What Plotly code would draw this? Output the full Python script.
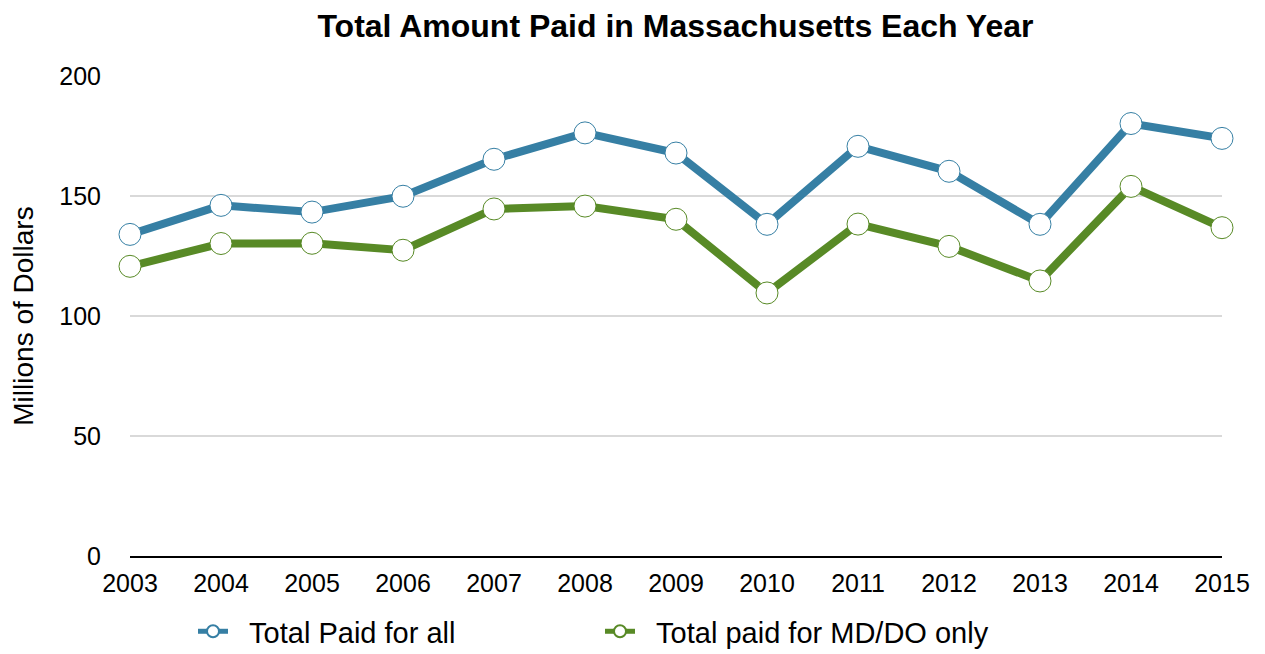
import plotly.graph_objects as go

years = [2003, 2004, 2005, 2006, 2007, 2008, 2009, 2010, 2011, 2012, 2013, 2014, 2015]
total_all = [134.0, 146.1, 143.3, 149.9, 165.3, 176.3, 167.9, 138.2, 170.7, 160.3, 138.2, 180.2, 174.0]
total_mddo = [120.7, 130.2, 130.3, 127.4, 144.6, 145.8, 140.3, 109.6, 138.3, 129.0, 114.6, 154.0, 136.8]
series_names = ["Total Paid for all", "Total paid for MD/DO only"]

blue = "#367fa4"
green = "#588a26"
font = "Liberation Sans, Arial, Helvetica, sans-serif"
pad = "\u00a0\u00a0"

fig = go.Figure()
fig.add_trace(go.Scatter(
    x=years, y=total_all, name=pad + series_names[0], mode="lines+markers",
    line=dict(color=blue, width=8),
    marker=dict(size=22, color="white", line=dict(color=blue, width=1)),
    cliponaxis=False,
))
fig.add_trace(go.Scatter(
    x=years, y=total_mddo, name=pad + series_names[1], mode="lines+markers",
    line=dict(color=green, width=8),
    marker=dict(size=22, color="white", line=dict(color=green, width=1)),
    cliponaxis=False,
))

fig.update_layout(
    width=1257, height=646,
    margin=dict(l=122, r=43, t=68, b=98, autoexpand=False),
    plot_bgcolor="white", paper_bgcolor="white",
    font=dict(family=font, color="black", size=25),
    title=dict(text="<b>Total Amount Paid in Massachusetts Each Year</b>",
               x=0.531, xanchor="center", y=0.972, yanchor="middle",
               font=dict(size=32, family=font, color="black")),
    showlegend=True,
    legend=dict(orientation="h", x=0.0577, xanchor="left", y=-0.104, yanchor="top",
                font=dict(size=29, family=font), entrywidth=362, entrywidthmode="pixels",
                itemsizing="constant"),
    xaxis=dict(range=[2003, 2015], tickmode="array", tickvals=years,
               ticktext=[str(y) for y in years], showgrid=False, zeroline=False,
               showline=True, linecolor="black", linewidth=2,
               ticks="outside", ticklen=4, tickcolor="rgba(0,0,0,0)",
               tickfont=dict(size=25)),
    yaxis=dict(range=[0, 200], tickmode="array", tickvals=[0, 50, 100, 150, 200],
               showgrid=True, gridcolor="#d9d9d9", gridwidth=1.5, zeroline=False,
               showline=False, ticks="outside", ticklen=23, tickcolor="rgba(0,0,0,0)",
               tickfont=dict(size=25),
               title=dict(text="Millions of Dollars", font=dict(size=28), standoff=22)),
)

fig.write_html("out.html")
